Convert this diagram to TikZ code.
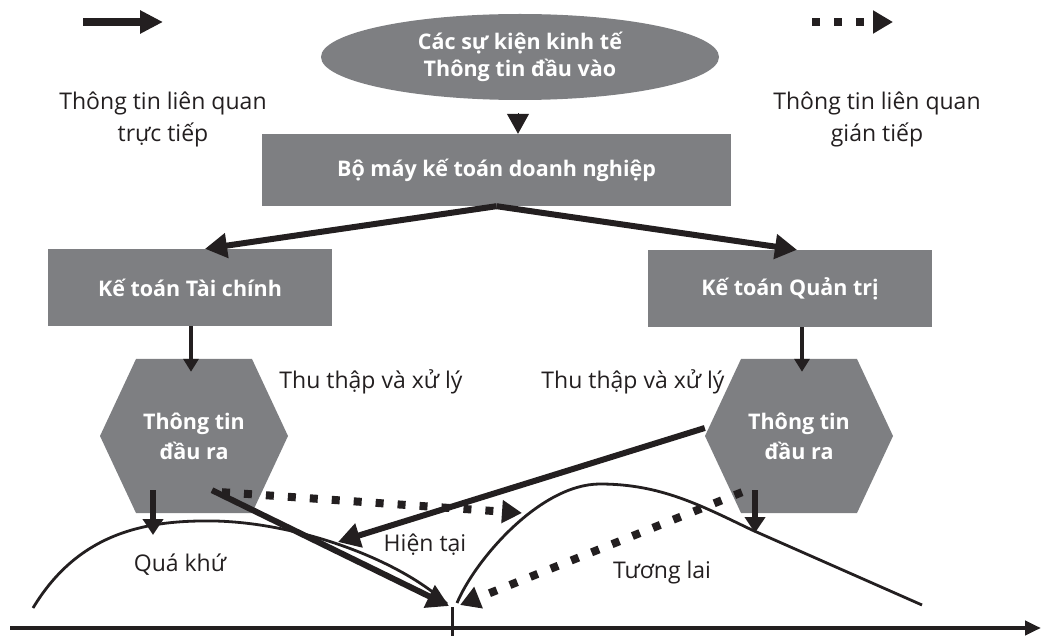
\documentclass[tikz,border=0pt]{standalone}
\usepackage{fontspec}
\setmainfont{Open Sans}
\usetikzlibrary{arrows.meta,shapes.geometric}
\definecolor{boxgray}{RGB}{126,127,130}
\definecolor{ink}{RGB}{35,31,32}

\begin{document}
\begin{tikzpicture}[x=1pt,y=-1pt,
  box/.style={fill=boxgray,text=white,font=\bfseries\fontsize{21.5}{27}\selectfont,
    align=center,inner sep=0pt},
  hexbox/.style={minimum width=188pt,minimum height=154pt,inner sep=0pt,text=white,
    font=\bfseries\fontsize{21.5}{30}\selectfont,align=center,
    path picture={\fill[boxgray] (path picture bounding box.west)
      -- ([xshift=-58pt]path picture bounding box.north)
      -- ([xshift=58pt]path picture bounding box.north)
      -- (path picture bounding box.east)
      -- ([xshift=58pt]path picture bounding box.south)
      -- ([xshift=-58pt]path picture bounding box.south) -- cycle;}},
  lbl/.style={font=\fontsize{23}{32}\selectfont,align=center,text=ink},
  solidarrow/.style={draw=ink,line width=6pt,-{Triangle[length=22pt,width=24pt]}},
  legendsolid/.style={draw=ink,line width=8pt,-{Triangle[length=23pt,width=22pt]}},
  dotarrow/.style={draw=ink,line width=8pt,dash pattern=on 8pt off 14pt,
    -{Triangle[length=20pt,width=22pt]}},
  downarrow/.style={draw=ink,line width=6pt,-{Triangle[length=16pt,width=20pt]}},
  feedarrow/.style={draw=ink,line width=4.5pt,-{Triangle[length=13pt,width=15pt]}},
  hump/.style={draw=ink,line width=2.8pt},
]
\useasboundingbox (0,0) rectangle (1042,636);

% legend
\coordinate (ls1) at (83,22);  \coordinate (ls2) at (163,22);
\coordinate (ld1) at (812,22); \coordinate (ld2) at (893,22);
\draw[legendsolid] (ls1) -- (ls2);
\draw[dotarrow] (ld1) -- (ld2);
\node[lbl] (direct) at (163,119) {Thông tin liên quan\\trực tiếp};
\node[lbl] (indirect) at (877,119) {Thông tin liên quan\\gián tiếp};

% accounting structure
\node[box,ellipse,minimum width=398pt,minimum height=86pt] (events) at (520,57)
  {Các sự kiện kinh tế\\Thông tin đầu vào};
\node[box,minimum width=469pt,minimum height=72pt] (unit) at (496.5,170)
  {Bộ máy kế toán doanh nghiệp};
\node[box,minimum width=284pt,minimum height=77pt] (fin) at (190,287.5)
  {Kế toán Tài chính};
\node[box,minimum width=284pt,minimum height=77pt] (mgt) at (790,288.5)
  {Kế toán Quản trị};
\node[hexbox] (outL) at (194,436) {Thông tin\\đầu ra};
\node[hexbox] (outR) at (799,436) {Thông tin\\đầu ra};

\draw[draw=ink,line width=1pt,shorten <=13pt,-{Triangle[length=20pt,width=22pt]}]
  ([xshift=-2pt]events.south) -- ([xshift=21.5pt]unit.north);
\draw[solidarrow] (unit.south) -- ([xshift=15pt]fin.north);
\draw[solidarrow] (unit.south) -- ([xshift=7pt]mgt.north);
\draw[feedarrow] ([xshift=1pt]fin.south) -- ([xshift=-3pt,yshift=-13pt]outL.north);
\draw[feedarrow] ([xshift=12pt]mgt.south) -- ([xshift=3pt,yshift=-13pt]outR.north);

\node[lbl] (procL) at (371,382) {Thu thập và xử lý};
\node[lbl] (procR) at (633,382) {Thu thập và xử lý};

% time line
\coordinate (axL) at (10,628);
\coordinate (axR) at (1041,628);
\coordinate (tickTop) at (452,607);
\coordinate (tickBot) at (452,636);
\draw[draw=ink,line width=4.5pt,-{Triangle[length=16pt,width=14pt]}] (axL) -- (axR);
\draw[draw=ink,line width=3pt] (tickTop) -- (tickBot);

% past and future curves
\coordinate (pastStart) at (33,608);
\coordinate (pastTop) at (153,535);
\coordinate (nowL) at (447,604);
\coordinate (nowR) at (457,603);
\coordinate (futTop) at (755,533);
\coordinate (futEnd) at (922,605);
\draw[hump] (pastStart) .. controls (80,530) and (150,520) .. (215,521)
  .. controls (300,523) and (400,560) .. (nowL);
\draw[hump] (nowR) .. controls (475,560) and (540,484) .. (600,484)
  .. controls (660,484) and (700,505) .. (752,530) -- (futEnd);

\node[lbl] (past) at (180,565) {Quá khứ};
\node[lbl] (now) at (425,545) {Hiện tại};
\node[lbl] (future) at (662,573) {Tương lai};

% information flows
\coordinate (nowTip) at (449,606);
\coordinate (nowDot) at (522,513);
\coordinate (nowCurve) at (338,542);
\coordinate (nowTipR) at (460,605);
\draw[downarrow] ([xshift=-41pt,yshift=23pt]outL.south) -- (pastTop);
\draw[downarrow] ([xshift=-44pt,yshift=23pt]outR.south) -- (futTop);
\draw[solidarrow] ([xshift=18pt,yshift=23pt]outL.south) -- (nowTip);
\draw[dotarrow] ([xshift=28pt,yshift=21pt]outL.south) -- (nowDot);
\draw[solidarrow] ([yshift=8pt]outR.west) -- (nowCurve);
\draw[dotarrow] ([xshift=-57pt,yshift=21pt]outR.south) -- (nowTipR);
\end{tikzpicture}
\end{document}
